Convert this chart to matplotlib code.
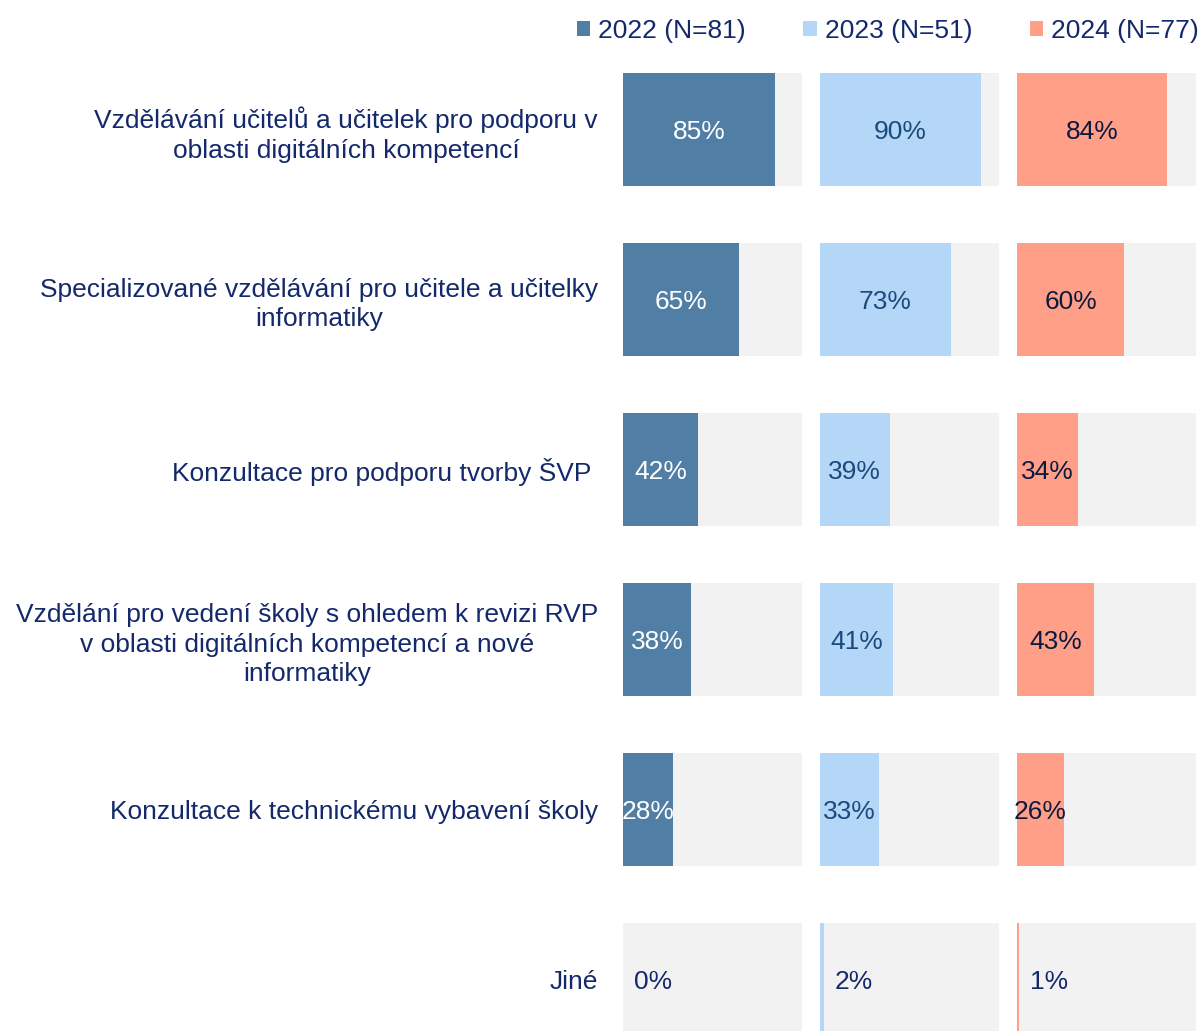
"""
Podpora v oblasti digitalnich kompetenci - srovnani 2022 / 2023 / 2024
"""

import matplotlib
matplotlib.use("Agg")
import matplotlib.pyplot as plt
from matplotlib.patches import Patch

plt.rcParams['font.family'] = ['Liberation Sans', 'DejaVu Sans']

categories = [
    "Vzdělávání učitelů a učitelek pro podporu v\noblasti digitálních kompetencí",
    "Specializované vzdělávání pro učitele a učitelky\ninformatiky",
    "Konzultace pro podporu tvorby ŠVP ",
    "Vzdělání pro vedení školy s ohledem k revizi RVP\nv oblasti digitálních kompetencí a nové\ninformatiky",
    "Konzultace k technickému vybavení školy",
    "Jiné",
]
years = ["2022 (N=81)", "2023 (N=51)", "2024 (N=77)"]
vals_2022 = [85, 65, 42, 38, 28, 0]
vals_2023 = [90, 73, 39, 41, 33, 2]
vals_2024 = [84, 60, 34, 43, 26, 1]

series = [vals_2022, vals_2023, vals_2024]
colors = ['#517ea4', '#b4d7f7', '#ff9f88']
label_colors = ['white', '#1b4a7e', '#0c1a40']
navy = '#14296b'
bg = '#f2f2f2'
fs = 19

W, H = 1199, 1031
fig = plt.figure(figsize=(W / 100, H / 100), dpi=100)

# panel left edges in pixels, width of each panel
lefts = [623, 820, 1017]
pw = 179
row0, pitch, bar_h = 129.5, 170, 113

ypos = list(range(len(categories)))
for i, (vals, col) in enumerate(zip(series, colors)):
    ax = fig.add_axes([lefts[i] / W, 0, pw / W, 1])
    ax.set_xlim(0, 100)
    # map pixel rows to category index
    ax.set_ylim((H - row0) / pitch, -row0 / pitch)
    ax.barh(ypos, [100] * len(vals), height=bar_h / pitch, color=bg, zorder=1)
    ax.barh(ypos, vals, height=bar_h / pitch, color=col, zorder=2)
    for y, v in zip(ypos, vals):
        if v < 10:
            ax.text(v + 17, y + 0.012, f"{v}%", ha='center', va='center',
                    fontsize=fs, color=navy, zorder=3)
        else:
            ax.text(v / 2, y + 0.012, f"{v}%", ha='center', va='center',
                    fontsize=fs, color=label_colors[i], zorder=3)
    ax.set_xticks([])
    for s in ax.spines.values():
        s.set_visible(False)
    if i == 0:
        ax.set_yticks(ypos)
        ax.set_yticklabels(categories, fontsize=fs, color=navy)
        for lab in ax.get_yticklabels():
            lab.set_multialignment('center')
            lab.set_linespacing(1.28)
        ax.tick_params(axis='y', length=0, pad=18)
    else:
        ax.set_yticks([])

handles = [Patch(facecolor=c, edgecolor='none') for c in colors]
fig.legend(handles, years, loc='center right', bbox_to_anchor=(1.0, 1 - 31 / H),
           ncol=3, frameon=False, fontsize=fs, labelcolor=navy,
           handlelength=0.5, handleheight=0.5, handletextpad=0.3,
           columnspacing=2.2, borderpad=0, borderaxespad=0)

fig.savefig('out.png', dpi=100)
